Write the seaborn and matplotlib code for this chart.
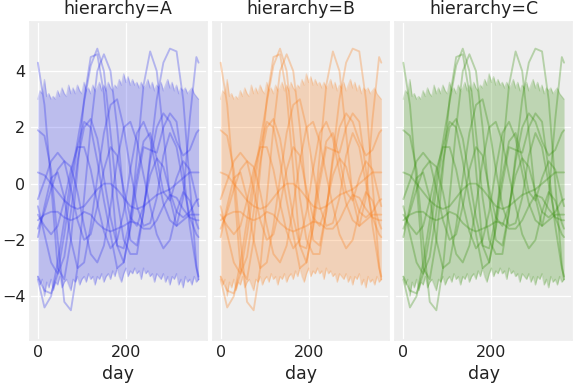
import numpy as np
import pandas as pd
import seaborn as sns
import matplotlib.pyplot as plt

# facets and colours (arviz-darkgrid palette)
hierarchies = ['A', 'B', 'C']
colors = ['#2a2eec', '#fa7c17', '#328c06']

# band (credible interval) read every 5 days
band_days = list(range(0, 366, 5))
band_upper = [3.0, 3.3, 3.2, 3.7, 3.1, 3.2, 3.0, 3.1, 3.0, 3.3, 3.1, 3.4, 3.2, 3.1, 3.5,
              3.2, 3.4, 3.2, 3.5, 3.3, 3.2, 3.6, 3.3, 3.4, 3.2, 3.5, 3.3, 3.4, 3.6, 3.3,
              3.5, 3.3, 3.6, 3.4, 3.3, 3.5, 3.4, 3.7, 3.5, 3.9, 3.6, 3.8, 3.5, 3.7, 3.5,
              3.6, 3.4, 3.6, 3.4, 3.5, 3.7, 3.4, 3.6, 3.3, 3.5, 3.4, 3.6, 3.3, 3.5, 3.7,
              3.4, 3.6, 3.3, 3.5, 3.2, 3.4, 3.3, 3.4, 3.2, 3.3, 3.4, 3.2, 3.1, 3.0]
band_lower = [-3.3, -3.6, -3.4, -4.0, -3.5, -3.7, -3.4, -3.8, -3.5, -3.6, -3.3, -3.7, -3.5, -3.4, -3.6,
              -3.8, -3.4, -3.5, -3.3, -3.6, -3.4, -3.3, -3.5, -3.2, -3.4, -3.3, -3.6, -3.3, -3.4, -3.2,
              -3.5, -3.3, -3.2, -3.4, -3.1, -3.3, -3.0, -3.3, -3.5, -3.2, -3.0, -3.3, -3.1, -3.2, -3.0,
              -3.2, -3.1, -3.4, -3.0, -3.2, -3.1, -3.3, -3.2, -3.5, -3.2, -3.3, -3.4, -3.2, -3.5, -3.3,
              -3.6, -3.3, -3.4, -3.2, -3.6, -3.4, -3.7, -3.3, -3.5, -3.4, -3.6, -3.3, -3.5, -3.4]

# sample curves read every 15 days
curve_days = list(range(0, 361, 15)) + [365]
c1 = [4.3, 2.8, 0.0, -3.0, -3.4, -2.0, 0.5, 3.0, 4.5, 4.6, 3.2, 0.5, -2.2, -2.8, -1.5, 1.0, 3.5, 4.7, 4.0, 1.8, -0.5, -1.5, -0.5, 2.3, 4.5, 4.3]
c2 = [-3.4, -4.4, -4.0, -2.8, -1.3, 0.2, 1.5, 2.9, 4.2, 4.8, 4.0, 1.8, -0.5, -2.0, -2.5, -2.5, -1.0, 1.0, 3.0, 4.3, 4.8, 4.7, 3.0, 0.0, -2.9, -3.4]
c3 = [1.9, 1.7, 0.5, -2.0, -4.2, -4.5, -3.0, -0.5, 2.0, 4.0, 4.6, 4.0, 2.0, -0.5, -2.0, -2.2, -1.0, 0.8, 2.0, 2.5, 2.2, 1.5, 1.0, 1.2, 1.8, 1.9]
c4 = [0.4, 0.3, 0.0, -0.3, -0.6, -0.8, -0.9, -0.8, -0.5, -0.2, 0.0, 0.0, -0.2, -0.5, -0.8, -0.9, -0.8, -0.6, -0.4, -0.3, -0.2, 0.0, 0.2, 0.4, 0.4, 0.4]
c5 = [-0.55, 0.1, 0.8, 1.1, 0.8, -0.2, -1.3, -2.0, -1.8, -0.8, 0.5, 1.3, 1.0, -0.2, -1.2, -1.5, -0.8, 0.3, 0.9, 0.6, -0.3, -1.0, -1.2, -1.0, -0.6, -0.55]
c6 = [-1.1, -1.5, -1.8, -1.5, -0.6, 0.5, 1.3, 1.3, 0.5, -0.7, -1.7, -2.3, -2.0, -1.0, 0.5, 1.8, 2.2, 1.6, 0.4, -0.7, -1.3, -1.5, -1.3, -1.1, -1.1, -1.1]
c7 = [-1.3, -1.1, -1.0, -1.0, -1.2, -1.3, -1.2, -1.0, -1.1, -1.4, -1.6, -1.7, -1.6, -1.5, -1.35, -1.4, -1.6, -1.6, -1.3, -0.8, -0.4, -0.5, -0.9, -1.2, -1.3, -1.3]
c8 = [-1.6, -1.0, -0.2, 0.5, 0.8, 0.6, -0.3, -1.5, -2.5, -2.8, -2.2, -0.8, 0.8, 2.0, 2.2, 1.5, 0.3, -0.8, -1.8, -2.3, -2.0, -1.0, -0.3, -0.6, -1.4, -1.6]
c9 = [-3.3, -3.8, -3.9, -3.2, -1.8, -0.2, 1.3, 2.2, 2.0, 0.8, -0.6, -1.8, -3.0, -2.8, -1.6, 0.0, 1.3, 1.2, 1.1, 2.0, 2.5, 2.2, 0.5, -1.5, -3.0, -3.3]
c10 = [-0.8, -1.8, -2.8, -3.2, -2.6, -1.0, 0.8, 2.0, 2.3, 1.6, 0.2, -1.2, -2.2, -2.3, -1.2, 0.3, 1.5, 1.8, 0.9, -0.3, -0.6, 0.2, 0.8, 0.5, -0.5, -0.8]
c11 = [-1.9, -0.8, 0.2, 0.4, -0.5, -2.0, -3.0, -2.8, -1.5, 0.2, 1.8, 2.8, 3.0, 2.0, 0.5, -0.8, -1.5, -1.4, -0.5, 1.0, 1.8, 1.3, 0.0, -1.2, -1.8, -1.9]
curves = [c1, c2, c3, c4, c5, c6, c7, c8, c9, c10, c11]

band_rows = []
line_rows = []
for h in hierarchies:
    for d, lo, hi in zip(band_days, band_lower, band_upper):
        band_rows.append({'hierarchy': h, 'day': d, 'lower': lo, 'upper': hi})
    for i, c in enumerate(curves):
        for d, v in zip(curve_days, c):
            line_rows.append({'hierarchy': h, 'draw': i, 'day': d, 'value': v})
band_df = pd.DataFrame(band_rows)
line_df = pd.DataFrame(line_rows)

sns.set_theme(style='darkgrid', rc={'axes.facecolor': '#eeeeee', 'grid.color': 'white',
                                    'axes.edgecolor': '#eeeeee', 'text.color': '#222222',
                                    'xtick.color': '#222222', 'ytick.color': '#222222',
                                    'axes.labelcolor': '#222222'})
plt.rcParams['font.family'] = ['DejaVu Sans']

g = sns.FacetGrid(line_df, col='hierarchy', col_order=hierarchies, sharey=True,
                  height=4, aspect=0.5, despine=False)

for ax, h, col in zip(g.axes.flat, hierarchies, colors):
    b = band_df[band_df['hierarchy'] == h]
    ax.fill_between(b['day'], b['lower'], b['upper'], color=col, alpha=0.25, lw=0)
    ax.plot(b['day'], b['upper'], color=col, alpha=0.2, lw=1)
    ax.plot(b['day'], b['lower'], color=col, alpha=0.2, lw=1)
    sns.lineplot(data=line_df[line_df['hierarchy'] == h], x='day', y='value', units='draw',
                 estimator=None, color=col, alpha=0.3, lw=1.4, ax=ax)
    ax.tick_params(labelsize=12, length=0)

g.set_titles('hierarchy={col_name}', size=13)
g.set_axis_labels('day', '', fontsize=13)
g.set(xlim=(-18, 383), ylim=(-5.55, 5.75), xticks=[0, 200], yticks=[-4, -2, 0, 2, 4])
g.figure.set_size_inches(6, 4)
g.figure.subplots_adjust(left=0.052, right=0.993, top=0.943, bottom=0.115, wspace=0.035)
g.figure.savefig('out.png', dpi=96)
